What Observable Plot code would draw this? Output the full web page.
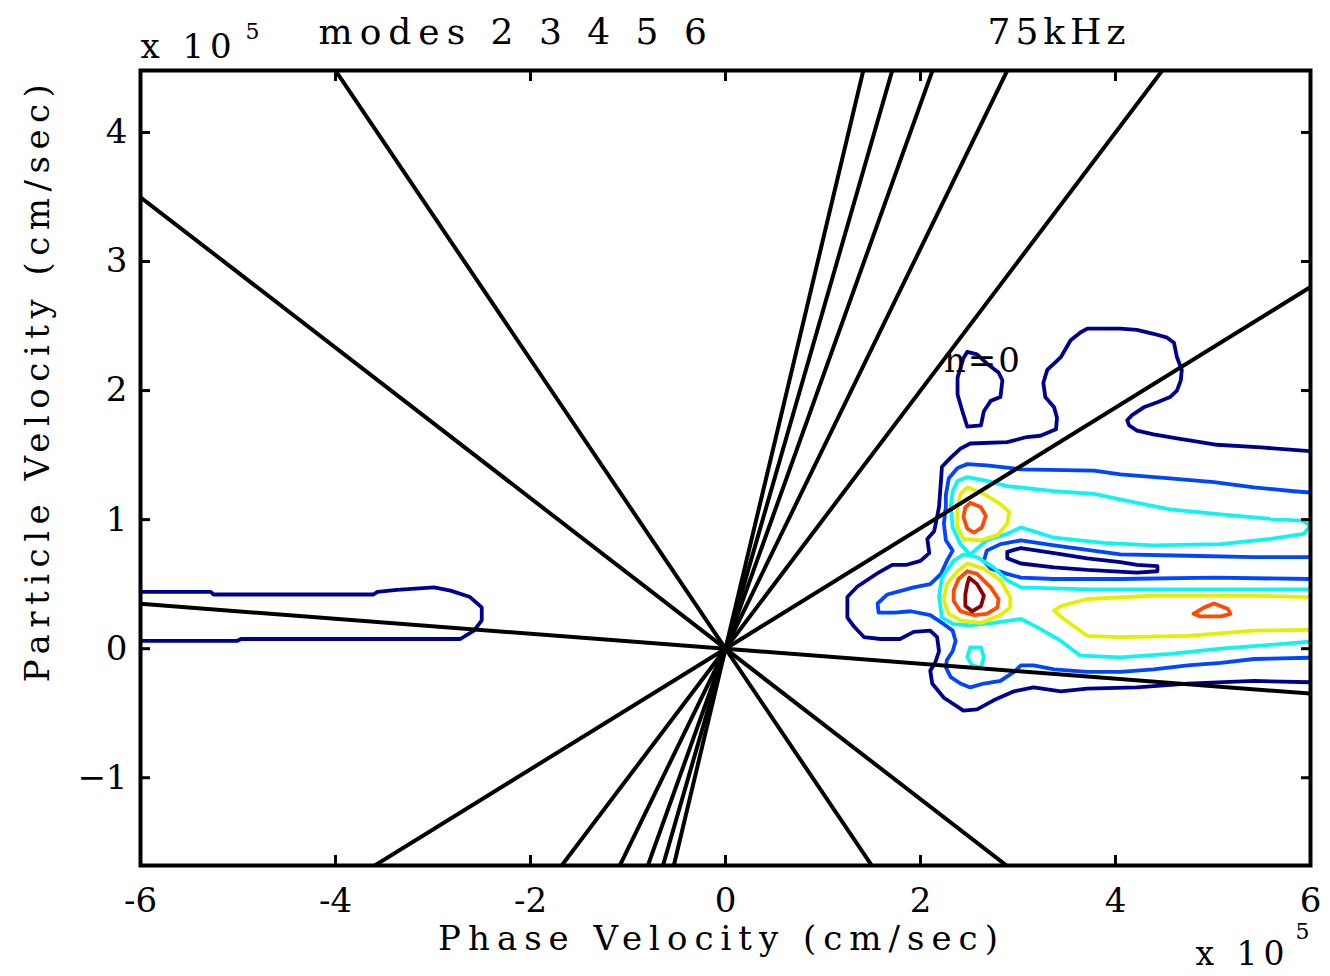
<!DOCTYPE html>
<html>
<head>
<meta charset="utf-8">
<script src="https://cdn.jsdelivr.net/npm/d3@7"></script>
<script src="https://cdn.jsdelivr.net/npm/@observablehq/plot@0.6"></script>
<style>
  html, body { margin: 0; padding: 0; background: #fff; }
</style>
</head>
<body>
<div id="chart"></div>
<script>
// ---------- data ----------
const xDomain = [-6, 6];
const yDomain = [-1.68, 4.48];
const xTicks = [-6, -4, -2, 0, 2, 4, 6];
const yTicks = [-1, 0, 1, 2, 3, 4];

// slopes (particle velocity / phase velocity) of the black resonance lines through the origin
const resonanceSlopes = [0.467, 1.0, 1.55, 2.11, 2.62, 3.17, -0.058, -0.583, -1.12];

// contour level colours (lowest -> highest)
const levelColors = ["#00008f", "#0046ff", "#10f4f0", "#e4f000", "#ff4a00", "#8a0000"];

// contour polylines, [phase velocity, particle velocity] in units of 1e5 cm/sec
const navyOuter = [[6.00,1.53],[5.49,1.56],[5.04,1.58],[4.87,1.60],[4.63,1.63],[4.39,1.66],[4.22,1.69],[4.14,1.73],[4.12,1.77],[4.17,1.81],[4.29,1.87],[4.43,1.91],[4.56,1.95],[4.63,2.00],[4.67,2.08],[4.68,2.16],[4.63,2.26],[4.60,2.37],[4.53,2.41],[4.39,2.44],[4.22,2.47],[4.05,2.48],[3.71,2.48],[3.64,2.45],[3.54,2.39],[3.44,2.26],[3.30,2.16],[3.26,2.06],[3.28,1.95],[3.37,1.87],[3.40,1.79],[3.39,1.70],[3.23,1.65],[3.09,1.64],[2.89,1.60],[2.51,1.59],[2.41,1.55],[2.31,1.48],[2.22,1.41],[2.21,1.30],[2.19,1.10],[2.17,1.02],[2.14,0.91],[2.07,0.85],[2.09,0.74],[2.00,0.68],[1.86,0.65],[1.71,0.65],[1.57,0.59],[1.35,0.48],[1.25,0.40],[1.25,0.24],[1.32,0.17],[1.42,0.09],[1.59,0.075],[1.79,0.075],[1.93,0.13],[2.10,0.14],[2.17,0.09],[2.19,-0.02],[2.15,-0.11],[2.10,-0.17],[2.12,-0.27],[2.24,-0.38],[2.44,-0.48],[2.58,-0.47],[2.75,-0.40],[2.96,-0.33],[3.16,-0.30],[3.44,-0.33],[3.71,-0.31],[4.22,-0.30],[4.74,-0.27],[5.42,-0.25],[6.00,-0.26]];
const navyIsland = [[2.48,2.30],[2.58,2.28],[2.68,2.21],[2.80,2.14],[2.84,2.08],[2.82,1.95],[2.72,1.92],[2.65,1.84],[2.62,1.73],[2.48,1.72],[2.43,1.84],[2.38,1.97],[2.38,2.10],[2.44,2.25]];
const navyTongue = [[2.89,0.75],[3.03,0.78],[3.37,0.74],[3.71,0.70],[4.05,0.67],[4.22,0.65],[4.43,0.64],[4.43,0.60],[4.22,0.59],[3.71,0.61],[3.37,0.63],[3.03,0.66],[2.89,0.70]];
const navyLeft = [[-6.00,0.44],[-5.28,0.44],[-5.25,0.42],[-3.61,0.42],[-3.57,0.44],[-3.37,0.455],[-2.99,0.475],[-2.82,0.45],[-2.62,0.40],[-2.50,0.32],[-2.50,0.22],[-2.58,0.14],[-2.72,0.075],[-3.74,0.075],[-4.97,0.075],[-5.01,0.06],[-6.00,0.06]];
const blueOuter = [[6.00,1.21],[5.83,1.22],[5.42,1.25],[5.01,1.29],[4.56,1.32],[4.05,1.35],[3.78,1.38],[3.03,1.39],[2.68,1.42],[2.48,1.43],[2.38,1.40],[2.29,1.32],[2.26,1.19],[2.26,1.10],[2.24,0.97],[2.26,0.84],[2.33,0.76],[2.27,0.68],[2.21,0.58],[2.10,0.50],[1.93,0.475],[1.66,0.42],[1.56,0.35],[1.57,0.28],[1.73,0.28],[1.90,0.29],[2.10,0.26],[2.24,0.19],[2.33,0.14],[2.36,0.06],[2.33,-0.02],[2.27,-0.09],[2.26,-0.145],[2.31,-0.22],[2.41,-0.27],[2.51,-0.30],[2.65,-0.27],[2.82,-0.25],[2.96,-0.18],[3.03,-0.13],[3.16,-0.13],[3.37,-0.16],[3.71,-0.18],[4.05,-0.18],[4.39,-0.16],[4.74,-0.13],[5.08,-0.11],[5.42,-0.08],[6.00,-0.07]];
const blueInner = [[6.00,0.71],[5.42,0.71],[4.74,0.72],[4.05,0.73],[3.37,0.80],[3.03,0.84],[2.82,0.81],[2.68,0.76],[2.65,0.68],[2.72,0.62],[2.89,0.58],[3.03,0.55],[3.37,0.54],[4.05,0.54],[5.01,0.55],[6.00,0.54]];
const cyanUpper = [[2.51,0.73],[2.41,0.81],[2.33,0.94],[2.31,1.10],[2.33,1.22],[2.38,1.30],[2.48,1.33],[2.68,1.30],[2.89,1.26],[3.37,1.22],[3.78,1.20],[4.22,1.13],[4.56,1.08],[5.08,1.04],[5.59,1.005],[5.93,0.99],[6.00,0.95],[5.93,0.89],[5.59,0.85],[5.08,0.81],[4.39,0.80],[3.88,0.82],[3.37,0.86],[3.03,0.94],[2.89,0.89],[2.68,0.84]];
const cyanLower = [[6.00,0.46],[4.74,0.46],[3.71,0.46],[3.03,0.475],[2.89,0.53],[2.75,0.63],[2.58,0.71],[2.44,0.73],[2.34,0.68],[2.22,0.55],[2.19,0.40],[2.22,0.24],[2.34,0.19],[2.51,0.18],[2.75,0.20],[3.03,0.23],[3.20,0.165],[3.44,0.06],[3.64,-0.054],[4.05,-0.067],[4.56,-0.04],[5.08,0.00],[5.59,0.03],[6.00,0.055]];
const cyanIsland = [[2.51,0.01],[2.62,0.01],[2.65,-0.067],[2.62,-0.145],[2.53,-0.13],[2.48,-0.067]];
const yellowUpper = [[2.48,1.25],[2.65,1.20],[2.82,1.12],[2.91,1.06],[2.89,0.97],[2.79,0.88],[2.62,0.84],[2.44,0.85],[2.38,0.94],[2.38,1.10],[2.41,1.20]];
const yellowLower = [[2.48,0.66],[2.65,0.62],[2.82,0.53],[2.92,0.40],[2.92,0.32],[2.82,0.26],[2.62,0.20],[2.41,0.22],[2.29,0.27],[2.24,0.37],[2.27,0.50],[2.38,0.60]];
const yellowTongue = [[6.00,0.40],[5.42,0.41],[4.39,0.41],[3.71,0.385],[3.44,0.33],[3.37,0.295],[3.47,0.23],[3.71,0.10],[4.05,0.09],[4.74,0.10],[5.42,0.14],[6.00,0.145]];
const orangeUpper = [[2.51,1.13],[2.62,1.095],[2.67,1.03],[2.63,0.94],[2.55,0.90],[2.48,0.93],[2.44,1.02],[2.46,1.095]];
const orangeLower = [[2.48,0.60],[2.58,0.58],[2.72,0.475],[2.80,0.385],[2.79,0.32],[2.68,0.27],[2.55,0.26],[2.41,0.29],[2.34,0.37],[2.34,0.45],[2.39,0.54]];
const orangeRight = [[4.80,0.27],[4.91,0.32],[5.01,0.35],[5.15,0.31],[5.18,0.27],[5.08,0.25],[4.87,0.25]];
const darkRedCore = [[2.50,0.55],[2.58,0.50],[2.65,0.41],[2.62,0.33],[2.53,0.29],[2.46,0.33],[2.46,0.42],[2.48,0.50]];

// texts
const titleModes = "modes 2 3 4 5 6";
const titleFreq = "75kHz";
const xLabel = "Phase Velocity (cm/sec)";
const yLabel = "Particle Velocity (cm/sec)";
const scaleText = "x 10";
const scaleExp = "5";
const lineLabels = [{x: 2.24, y: 2.14, text: "n=0"}];

// ---------- build tables ----------
const contourSet = [
  {name: "navyOuter", level: 0, closed: false, pts: navyOuter},
  {name: "navyIsland", level: 0, closed: true, pts: navyIsland},
  {name: "navyTongue", level: 0, closed: true, pts: navyTongue},
  {name: "navyLeft", level: 0, closed: false, pts: navyLeft},
  {name: "blueOuter", level: 1, closed: false, pts: blueOuter},
  {name: "blueInner", level: 1, closed: false, pts: blueInner},
  {name: "cyanUpper", level: 2, closed: true, pts: cyanUpper},
  {name: "cyanLower", level: 2, closed: false, pts: cyanLower},
  {name: "cyanIsland", level: 2, closed: true, pts: cyanIsland},
  {name: "yellowUpper", level: 3, closed: true, pts: yellowUpper},
  {name: "yellowLower", level: 3, closed: true, pts: yellowLower},
  {name: "yellowTongue", level: 3, closed: false, pts: yellowTongue},
  {name: "orangeUpper", level: 4, closed: true, pts: orangeUpper},
  {name: "orangeLower", level: 4, closed: true, pts: orangeLower},
  {name: "orangeRight", level: 4, closed: true, pts: orangeRight},
  {name: "darkRedCore", level: 5, closed: true, pts: darkRedCore}
];
const contourRows = contourSet.flatMap(c => {
  const pts = c.closed ? [...c.pts, c.pts[0]] : c.pts;
  return pts.map(([x, y]) => ({x, y, id: c.name, color: levelColors[c.level]}));
});
const resonanceRows = resonanceSlopes.flatMap((s, i) =>
  [xDomain[0], 0, xDomain[1]].map(x => ({x, y: s * x, id: i})));

const fmtX = d => String(d);
const fmtY = d => d < 0 ? "\u2212" + (-d) : String(d);

const chart = Plot.plot({
  width: 1330,
  height: 976,
  marginLeft: 140,
  marginRight: 20,
  marginTop: 70,
  marginBottom: 111,
  x: {domain: xDomain},
  y: {domain: yDomain},
  color: {type: "identity"},
  style: {fontFamily: "'DejaVu Serif', serif", fontSize: "34px", color: "#000", background: "#fff", overflow: "visible"},
  marks: [
    Plot.line(contourRows, {x: "x", y: "y", z: "id", stroke: "color", strokeWidth: 3.8, strokeLinejoin: "round", clip: true}),
    Plot.line(resonanceRows, {x: "x", y: "y", z: "id", stroke: "#000", strokeWidth: 4, clip: true}),
    Plot.frame({stroke: "#000", strokeWidth: 4}),
    // inward ticks on all four sides
    Plot.axisX(xTicks, {anchor: "bottom", tickSize: -10, fill: "none", stroke: "#000", strokeWidth: 3, label: null}),
    Plot.axisX(xTicks, {anchor: "top", tickSize: -10, fill: "none", stroke: "#000", strokeWidth: 3, label: null}),
    Plot.axisY(yTicks, {anchor: "left", tickSize: -10, fill: "none", stroke: "#000", strokeWidth: 3, label: null}),
    Plot.axisY(yTicks, {anchor: "right", tickSize: -10, fill: "none", stroke: "#000", strokeWidth: 3, label: null}),
    // tick labels
    Plot.axisX(xTicks, {anchor: "bottom", tickSize: 0, tickPadding: 22, tickFormat: fmtX, fontSize: 34, label: null}),
    Plot.axisY(yTicks, {anchor: "left", tickSize: 0, tickPadding: 13, tickFormat: fmtY, fontSize: 34, label: null}),
    // titles / labels
    Plot.text([scaleText], {text: d => d, frameAnchor: "top-left", textAnchor: "start", lineAnchor: "bottom", dx: 0, dy: -13, fontSize: 34}),
    Plot.text([scaleExp], {text: d => d, frameAnchor: "top-left", textAnchor: "start", lineAnchor: "bottom", dx: 105, dy: -32, fontSize: 22}),
    Plot.text([titleModes], {text: d => d, frameAnchor: "top-left", textAnchor: "start", lineAnchor: "bottom", dx: 178, dy: -27, fontSize: 36}),
    Plot.text([titleFreq], {text: d => d, frameAnchor: "top-left", textAnchor: "start", lineAnchor: "bottom", dx: 847, dy: -27, fontSize: 36}),
    Plot.text([xLabel], {text: d => d, frameAnchor: "bottom", textAnchor: "middle", lineAnchor: "bottom", dx: -4, dy: 84, fontSize: 34}),
    Plot.text([yLabel], {text: d => d, frameAnchor: "left", textAnchor: "middle", lineAnchor: "bottom", rotate: -90, dx: -92, dy: -88, fontSize: 34}),
    Plot.text([scaleText], {text: d => d, frameAnchor: "bottom-right", textAnchor: "start", lineAnchor: "bottom", dx: -115, dy: 99, fontSize: 33}),
    Plot.text([scaleExp], {text: d => d, frameAnchor: "bottom-right", textAnchor: "start", lineAnchor: "bottom", dx: -15, dy: 73, fontSize: 22}),
    Plot.text(lineLabels, {x: "x", y: "y", text: "text", textAnchor: "start", lineAnchor: "bottom", fontSize: 34})
  ]
});

// letter spacing to match the wide, spaced lettering of the original
const spacing = new Map([[titleModes, 7], [titleFreq, 5], [xLabel, 7], [yLabel, 6.5], [scaleText, 6], ["n=0", 2]]);
d3.select(chart).selectAll("text").each(function() {
  const s = spacing.get(this.textContent);
  if (s) this.style.letterSpacing = s + "px";
});

document.getElementById("chart").appendChild(chart);
</script>
</body>
</html>
